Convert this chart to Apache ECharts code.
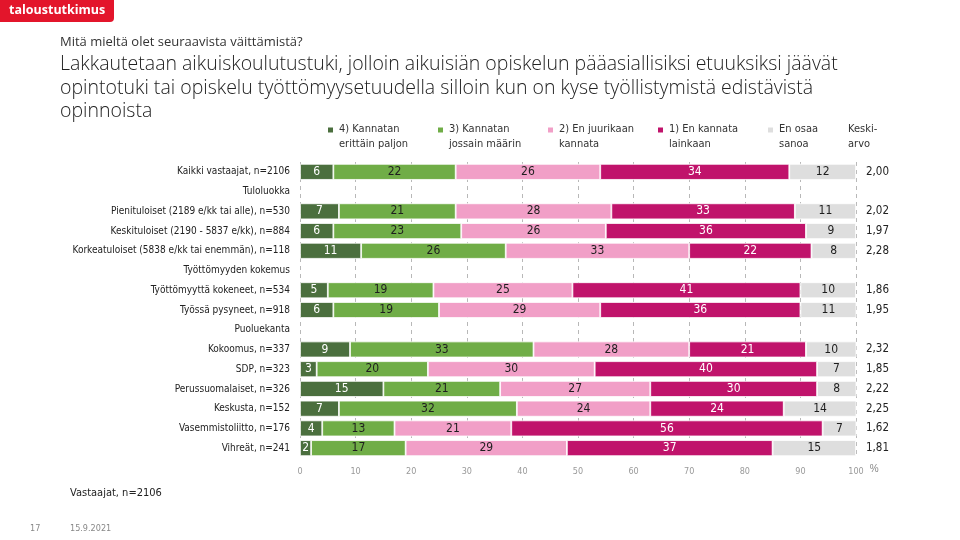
<!DOCTYPE html>
<html>
<head>
<meta charset="utf-8">
<script src="https://cdn.jsdelivr.net/npm/echarts@6/dist/echarts.min.js"></script>
<style>
  html, body { margin: 0; padding: 0; background: #fff; }
  #chart { width: 960px; height: 540px; }
</style>
</head>
<body>
<div id="chart"></div>
<script>
var categories = [
    'Kaikki vastaajat, n=2106',
    'Tuloluokka',
    'Pienituloiset (2189 e/kk tai alle), n=530',
    'Keskituloiset (2190 - 5837 e/kk), n=884',
    'Korkeatuloiset (5838 e/kk tai enemmän), n=118',
    'Työttömyyden kokemus',
    'Työttömyyttä kokeneet, n=534',
    'Työssä pysyneet, n=918',
    'Puoluekanta',
    'Kokoomus, n=337',
    'SDP, n=323',
    'Perussuomalaiset, n=326',
    'Keskusta, n=152',
    'Vasemmistoliitto, n=176',
    'Vihreät, n=241'
];
var seriesNames = ['4) Kannatan\nerittäin paljon', '3) Kannatan\njossain määrin', '2) En juurikaan\nkannata', '1) En kannata\nlainkaan', 'En osaa\nsanoa'];
var kannatanPaljon = [6, null, 7, 6, 11, null, 5, 6, null, 9, 3, 15, 7, 4, 2];
var kannatanJossain = [22, null, 21, 23, 26, null, 19, 19, null, 33, 20, 21, 32, 13, 17];
var enJuurikaan = [26, null, 28, 26, 33, null, 25, 29, null, 28, 30, 27, 24, 21, 29];
var enLainkaan = [34, null, 33, 36, 22, null, 41, 36, null, 21, 40, 30, 24, 56, 37];
var enOsaa = [12, null, 11, 9, 8, null, 10, 11, null, 10, 7, 8, 14, 7, 15];
var averages = ['2,00', '', '2,02', '1,97', '2,28', '', '1,86', '1,95', '', '2,32', '1,85', '2,22', '2,25', '1,62', '1,81'];
var xTicks = [0, 10, 20, 30, 40, 50, 60, 70, 80, 90, 100];

var colors = ['#4b6f3e', '#70ad47', '#f19fc7', '#c0136b', '#dedede'];
var labelColors = ['#ffffff', '#1e1e1e', '#1e1e1e', '#ffffff', '#1e1e1e'];
var values = [kannatanPaljon, kannatanJossain, enJuurikaan, enLainkaan, enOsaa];

var font = 'Liberation Sans Narrow, DejaVu Sans Condensed, sans-serif';
// square on top, tiny dot at bottom so the marker sits on the first text line
var legendIcon = 'path://M0,0h10v10h-10z M0,29.9h0.1v0.1h-0.1z';

var series = values.map(function (arr, i) {
    return {
        name: seriesNames[i],
        type: 'bar',
        stack: 'total',
        barWidth: 16,
        data: arr,
        itemStyle: {
            color: colors[i],
            borderColor: '#ffffff',
            borderWidth: 0.8
        },
        label: {
            show: true,
            position: 'inside',
            color: labelColors[i],
            fontFamily: font,
            fontSize: 12,
            formatter: function (p) {
                return p.value == null ? '' : p.value;
            }
        },
        emphasis: { disabled: true }
    };
});

var chart = echarts.init(document.getElementById('chart'));
var option = {
    animation: false,
    color: colors,
    title: [
        {
            left: 55, top: 31,
            text: 'Mitä mieltä olet seuraavista väittämistä?',
            textStyle: { fontFamily: 'Open Sans', fontWeight: 'normal', fontSize: 13, color: '#333' }
        },
        {
            left: 55, top: 48,
            text: 'Lakkautetaan aikuiskoulutustuki, jolloin aikuisiän opiskelun pääasiallisiksi etuuksiksi jäävät\nopintotuki tai opiskelu työttömyysetuudella silloin kun on kyse työllistymistä edistävistä\nopinnoista',
            textStyle: { fontFamily: 'Open Sans', fontWeight: 300, fontSize: 19.5, lineHeight: 23.5, color: '#222' }
        },
        {
            left: 65, top: 483,
            text: 'Vastaajat, n=2106',
            textStyle: { fontFamily: font, fontWeight: 'normal', fontSize: 11, color: '#222' }
        },
        {
            left: 25, top: 519,
            text: '17',
            textStyle: { fontFamily: font, fontWeight: 'normal', fontSize: 9, color: '#888' }
        },
        {
            left: 65, top: 519,
            text: '15.9.2021',
            textStyle: { fontFamily: font, fontWeight: 'normal', fontSize: 9, color: '#888' }
        }
    ],
    legend: {
        left: 321,
        top: 117,
        itemWidth: 7,
        itemHeight: 21,
        itemGap: 8,
        icon: legendIcon,
        selectedMode: false,
        data: seriesNames,
        textStyle: {
            fontFamily: font,
            fontSize: 11,
            color: '#333',
            lineHeight: 15,
            width: 89
        }
    },
    graphic: [
        {
            type: 'rect',
            shape: { x: 0, y: 0, width: 114, height: 22, r: [0, 0, 4, 0] },
            style: { fill: '#e3152b' }
        },
        {
            type: 'text',
            left: 9, top: 4,
            style: { text: 'taloustutkimus', fill: '#fff', font: 'bold 12.5px "Open Sans", sans-serif' }
        },
        {
            type: 'text',
            left: 848, top: 122,
            style: { text: 'Keski-\narvo', fill: '#333', font: '11px ' + font, lineHeight: 15 }
        }
    ],
    grid: { left: 300, right: 104, top: 162, bottom: 82 },
    xAxis: {
        type: 'value',
        min: 0,
        max: 100,
        interval: 10,
        name: '%',
        nameGap: 12,
        nameTextStyle: { color: '#888', fontSize: 10, verticalAlign: 'top', padding: [6, 0, 0, 0] },
        axisLine: { show: false },
        axisTick: { show: false },
        axisLabel: {
            color: '#999',
            fontSize: 9,
            fontFamily: font,
            margin: 9,
            formatter: function (v) { return xTicks.indexOf(v) >= 0 ? v : ''; }
        },
        splitLine: { show: true, lineStyle: { type: [4, 4], color: '#b8b8b8', width: 1 } }
    },
    yAxis: [
        {
            type: 'category',
            inverse: true,
            data: categories,
            axisLine: { show: false },
            axisTick: { show: false },
            axisLabel: { color: '#222', fontSize: 10, fontFamily: font, margin: 10 }
        },
        {
            type: 'category',
            inverse: true,
            position: 'right',
            data: averages,
            axisLine: { show: false },
            axisTick: { show: false },
            axisLabel: { color: '#222', fontSize: 11.5, fontFamily: font, margin: 10, align: 'left' }
        }
    ],
    series: series
};
chart.setOption(option);
</script>
</body>
</html>
